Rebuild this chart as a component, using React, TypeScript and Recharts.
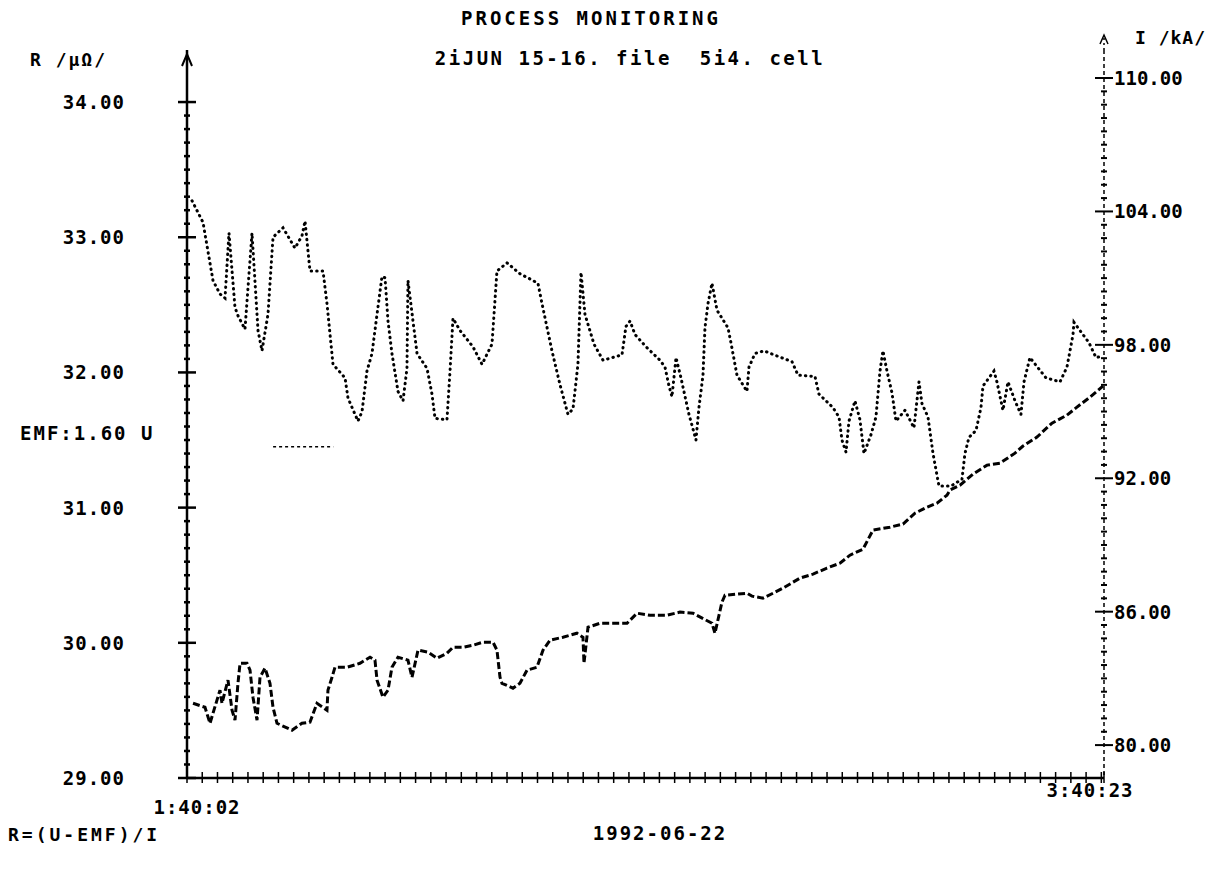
import React from 'react';
import { ComposedChart, Line, XAxis, YAxis, ReferenceLine } from 'recharts';

// R trace (upper, dotted) — minutes since 1:40:02, R in µΩ
const rTimes = [0.66,2.10,3.41,4.33,4.99,5.51,6.30,6.69,7.61,8.53,9.32,9.84,10.63,11.29,12.60,14.17,15.09,15.49,16.14,17.85,18.37,19.16,20.74,21.13,22.44,22.97,23.62,24.28,24.94,25.59,25.99,26.38,26.90,27.69,28.35,28.87,29.00,29.66,30.19,31.50,32.15,32.55,34.12,34.52,34.91,35.83,37.53,38.72,40.03,40.68,42.00,43.70,46.06,46.59,47.90,48.95,50.00,50.66,51.31,51.71,52.23,53.41,54.60,57.09,57.61,58.14,58.80,60.24,62.08,62.73,63.26,63.65,64.18,64.83,65.88,66.80,67.19,67.72,67.98,68.38,68.90,69.56,71.00,71.39,72.18,73.49,73.76,74.54,75.73,77.04,79.40,80.19,82.42,82.94,84.78,85.57,85.96,86.49,86.88,87.67,88.32,88.85,89.77,90.42,90.95,91.34,91.87,92.52,93.05,94.23,95.41,96.07,96.46,97.25,97.91,98.69,100.27,101.71,102.10,102.63,103.55,104.20,104.47,105.91,106.30,107.09,107.75,108.67,109.45,109.85,110.63,112.73,114.57,115.49,116.28,116.41,118.38,119.30,120.08];
const rValues = [33.27,33.11,32.68,32.58,32.55,33.03,32.48,32.42,32.32,33.03,32.31,32.16,32.43,33.00,33.07,32.92,33.01,33.12,32.75,32.75,32.51,32.06,31.96,31.81,31.64,31.71,32.01,32.14,32.43,32.71,32.70,32.38,32.14,31.86,31.79,32.03,32.68,32.38,32.14,32.03,31.84,31.66,31.65,32.01,32.40,32.31,32.19,32.06,32.21,32.75,32.81,32.73,32.66,32.51,32.16,31.91,31.69,31.73,32.06,32.74,32.43,32.21,32.09,32.13,32.34,32.38,32.28,32.19,32.09,32.04,31.90,31.82,32.11,31.96,31.69,31.50,31.74,31.98,32.33,32.51,32.66,32.46,32.33,32.22,31.98,31.86,32.04,32.14,32.16,32.13,32.08,31.98,31.97,31.84,31.74,31.67,31.50,31.41,31.64,31.79,31.65,31.40,31.54,31.67,32.01,32.16,32.01,31.85,31.64,31.72,31.59,31.93,31.77,31.67,31.40,31.16,31.16,31.21,31.40,31.52,31.57,31.74,31.90,32.01,31.93,31.72,31.93,31.79,31.69,31.93,32.11,31.96,31.93,32.04,32.28,32.37,32.22,32.11,32.12];

// I trace (lower, dashed) — minutes since 1:40:02, I in kA
const iTimes = [0.79,2.36,3.02,3.41,4.33,4.59,5.38,5.91,6.30,6.69,6.96,7.87,8.27,8.66,9.19,9.58,10.24,10.89,11.29,11.81,13.78,15.09,16.14,17.06,18.37,18.50,19.03,19.42,21.00,22.70,24.02,24.67,24.94,25.72,26.38,26.90,27.69,29.00,29.53,30.32,31.63,32.81,34.12,34.91,36.22,37.53,38.85,40.16,40.68,41.08,41.34,42.78,43.70,44.62,45.93,46.72,47.64,49.35,51.18,51.97,52.10,52.63,54.20,57.75,59.06,60.76,62.99,64.70,66.41,68.90,69.29,70.21,70.61,73.49,74.15,75.59,76.91,78.22,80.45,82.16,83.99,85.70,87.01,88.72,90.03,92.26,93.97,95.54,97.12,98.43,99.74,100.14,101.45,103.16,105.00,106.70,108.67,109.72,111.55,113.52,115.49,116.80,118.51,120.21];
const iValues = [81.88,81.70,80.98,81.43,82.47,81.88,82.92,81.57,81.12,82.78,83.68,83.68,83.37,82.15,81.12,83.05,83.46,82.78,81.70,80.98,80.67,80.98,81.03,81.88,81.57,82.47,83.05,83.50,83.50,83.68,83.95,83.82,82.92,82.15,82.47,83.50,83.95,83.82,83.05,84.27,84.18,83.91,84.13,84.40,84.40,84.49,84.63,84.63,84.27,83.05,82.78,82.56,82.78,83.37,83.50,84.27,84.72,84.85,85.03,84.85,83.68,85.30,85.48,85.48,85.93,85.84,85.84,85.98,85.93,85.48,85.03,86.43,86.74,86.83,86.70,86.61,86.83,87.06,87.51,87.69,87.96,88.18,88.54,88.81,89.67,89.80,89.94,90.43,90.70,90.88,91.24,91.47,91.69,92.19,92.59,92.68,93.13,93.45,93.85,94.48,94.84,95.20,95.65,96.14];

const leftMajorTicks = [29, 30, 31, 32, 33, 34];
const rightMajorTicks = [80, 86, 92, 98, 104, 110];
const xEndLabels = ['1:40:02', '3:40:23'];
const xEnd = 120.35;
const emfValue = 31.45;
const emfStart = 11.3;
const emfEnd = 19.2;

const leftDomain: [number, number] = [29, 34.385];
const rightDomain: [number, number] = [78.52, 111.26];

const FONT = "'DejaVu Sans Mono', monospace";

const rData = rTimes.map((t, i) => ({ t, r: rValues[i] }));
const iData = iTimes.map((t, i) => ({ t, i: iValues[i] }));

const leftTicks: number[] = [];
for (let k = 0; k <= 50; k++) leftTicks.push(Math.round((leftMajorTicks[0] + k * 0.1) * 10) / 10);
const rightTicks: number[] = [];
for (let k = 0; k <= 50; k++) rightTicks.push(Math.round((rightMajorTicks[0] + k * 0.6) * 10) / 10);
const xTicks: number[] = [];
for (let k = 0; k <= 60; k++) xTicks.push(k * 2);
xTicks.push(xEnd);

const isMajorLeft = (v: number) => leftMajorTicks.some((m) => Math.abs(m - v) < 1e-6);
const isMajorRight = (v: number) => rightMajorTicks.some((m) => Math.abs(m - v) < 1e-6);

const LeftTick = (props: any) => {
  const { x, y, payload } = props;
  const v = payload.value;
  const major = isMajorLeft(v);
  return (
    <g>
      {major ? (
        <line x1={x - 9} x2={x + 9} y1={y} y2={y} stroke="#000" strokeWidth={2.5} />
      ) : (
        <line x1={x - 3} x2={x + 3} y1={y} y2={y} stroke="#000" strokeWidth={2.5} />
      )}
      {major && (
        <text x={x - 62} y={y} dy={7} textAnchor="end" fontFamily={FONT} fontWeight={700} fontSize={19} letterSpacing={1} fill="#000">
          {v.toFixed(2)}
        </text>
      )}
    </g>
  );
};

const RightTick = (props: any) => {
  const { x, y, payload } = props;
  const v = payload.value;
  const major = isMajorRight(v);
  return (
    <g>
      {major ? (
        <line x1={x - 9} x2={x + 9} y1={y} y2={y} stroke="#000" strokeWidth={2} />
      ) : (
        <line x1={x - 3} x2={x + 3} y1={y} y2={y} stroke="#000" strokeWidth={2} />
      )}
      {major && (
        <text x={x + 10} y={y} dy={7} textAnchor="start" fontFamily={FONT} fontWeight={700} fontSize={19} fill="#000">
          {v.toFixed(2)}
        </text>
      )}
    </g>
  );
};

const XTick = (props: any) => {
  const { x, y, payload } = props;
  const v = payload.value;
  return (
    <g>
      <line x1={x} x2={x} y1={y - 6} y2={y + 5} stroke="#000" strokeWidth={1.5} />
      {v === 0 && (
        <text x={x + 10} y={y + 36} textAnchor="middle" fontFamily={FONT} fontWeight={700} fontSize={19} letterSpacing={1} fill="#000">
          {xEndLabels[0]}
        </text>
      )}
      {v === xEnd && (
        <text x={x - 14} y={y + 19} textAnchor="middle" fontFamily={FONT} fontWeight={700} fontSize={19} letterSpacing={1} fill="#000">
          {xEndLabels[1]}
        </text>
      )}
    </g>
  );
};

const LeftArrow = (p: any) => {
  const vb = p.viewBox || {};
  const ax = (vb.x || 0) + (vb.width || 0);
  const top = vb.y || 0;
  return <path d={`M${ax - 5},${top + 16} L${ax},${top + 4} L${ax + 5},${top + 16}`} stroke="#000" strokeWidth={2} fill="none" />;
};

const RightArrow = (p: any) => {
  const vb = p.viewBox || {};
  const ax = vb.x || 0;
  const top = vb.y || 0;
  return (
    <g>
      <line x1={ax} x2={ax} y1={top} y2={top - 14} stroke="#000" strokeWidth={1.5} strokeDasharray="2 3" />
      <path d={`M${ax - 4},${top - 6} L${ax},${top - 15} L${ax + 4},${top - 6}`} stroke="#000" strokeWidth={1.5} fill="none" />
    </g>
  );
};

const Txt = ({ x, y, anchor = 'start', size = 19, spacing = 1, children }: any) => (
  <div
    style={{
      position: 'absolute',
      left: x,
      top: y,
      transform: `translate(${anchor === 'middle' ? '-50%' : anchor === 'end' ? '-100%' : '0'}, -50%)`,
      whiteSpace: 'pre',
      fontFamily: FONT,
      fontWeight: 700,
      fontSize: size,
      letterSpacing: spacing,
      lineHeight: 1,
      color: '#000',
    }}
  >
    {children}
  </div>
);

export default function App() {
  return (
    <div style={{ position: 'absolute', left: 0, top: 0, width: 1229, height: 872, background: '#fff', overflow: 'hidden' }}>
      <ComposedChart width={1229} height={872} margin={{ top: 50, right: 65, bottom: 64, left: 127 }}>
        <XAxis
          xAxisId={0}
          dataKey="t"
          type="number"
          domain={[0, xEnd]}
          ticks={xTicks}
          interval={0}
          height={30}
          tickSize={0}
          tickMargin={0}
          tickLine={false}
          tick={<XTick />}
          axisLine={{ stroke: '#000', strokeWidth: 2.5 }}
          allowDataOverflow
        />
        <YAxis
          yAxisId="left"
          orientation="left"
          type="number"
          domain={leftDomain}
          ticks={leftTicks}
          interval={0}
          width={60}
          tickSize={0}
          tickMargin={0}
          tickLine={false}
          tick={<LeftTick />}
          axisLine={{ stroke: '#000', strokeWidth: 2.5 }}
          allowDataOverflow
          label={{ content: LeftArrow } as any}
        />
        <YAxis
          yAxisId="right"
          orientation="right"
          type="number"
          domain={rightDomain}
          ticks={rightTicks}
          interval={0}
          width={60}
          tickSize={0}
          tickMargin={0}
          tickLine={false}
          tick={<RightTick />}
          axisLine={{ stroke: '#000', strokeWidth: 1.5, strokeDasharray: '4 3' }}
          allowDataOverflow
          label={{ content: RightArrow } as any}
        />
        <ReferenceLine
          yAxisId="left"
          segment={[{ x: emfStart, y: emfValue }, { x: emfEnd, y: emfValue }]}
          stroke="#000"
          strokeWidth={1.5}
          strokeDasharray="3 3"
        />
        <Line
          data={rData}
          dataKey="r"
          yAxisId="left"
          type="linear"
          stroke="#000"
          strokeWidth={3}
          strokeDasharray="0.5 5"
          strokeLinecap="round"
          dot={false}
          isAnimationActive={false}
        />
        <Line
          data={iData}
          dataKey="i"
          yAxisId="right"
          type="linear"
          stroke="#000"
          strokeWidth={3}
          strokeDasharray="7 3"
          dot={false}
          isAnimationActive={false}
        />
      </ComposedChart>
      <Txt x={591} y={18} anchor="middle" size={19} spacing={3}>PROCESS MONITORING</Txt>
      <Txt x={630} y={58} anchor="middle" size={19} spacing={2.5}>{'2iJUN 15-16. file  5i4. cell'}</Txt>
      <Txt x={30} y={60} size={18} spacing={2}>R /μΩ/</Txt>
      <Txt x={1135} y={38} size={18} spacing={1}>I /kA/</Txt>
      <Txt x={20} y={433} size={19} spacing={2}>EMF:1.60 U</Txt>
      <Txt x={660} y={833} anchor="middle" size={19} spacing={2}>1992-06-22</Txt>
      <Txt x={8} y={835} size={18} spacing={3}>R=(U-EMF)/I</Txt>
    </div>
  );
}
